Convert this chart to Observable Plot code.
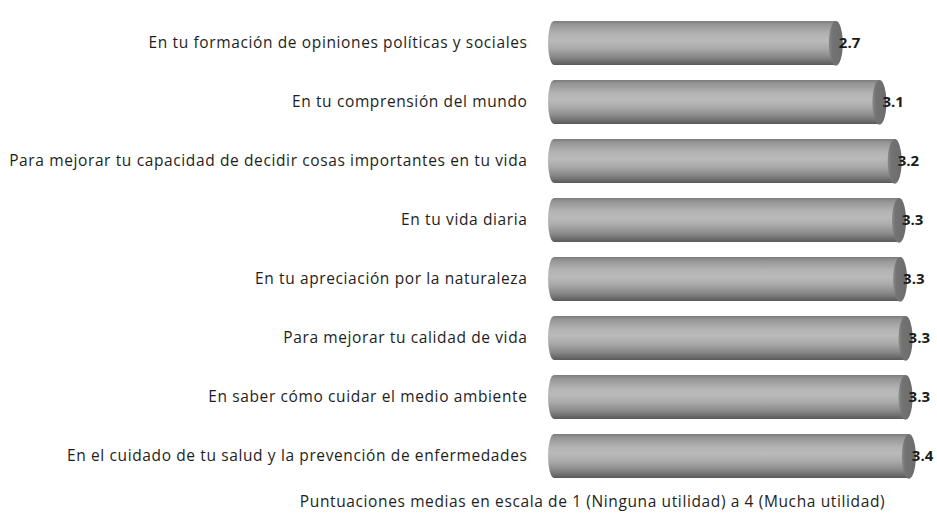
<!DOCTYPE html>
<html>
<head>
<meta charset="utf-8">
<script src="https://cdn.jsdelivr.net/npm/d3@7"></script>
<script src="https://cdn.jsdelivr.net/npm/@observablehq/plot@0.6"></script>
<style>
  html, body { margin: 0; padding: 0; background: #fff; }
</style>
</head>
<body>
<div id="chart"></div>
<script>
const categories = [
  "En tu formación de opiniones políticas y sociales",
  "En tu comprensión del mundo",
  "Para mejorar tu capacidad de decidir cosas importantes en tu vida",
  "En tu vida diaria",
  "En tu apreciación por la naturaleza",
  "Para mejorar tu calidad de vida",
  "En saber cómo cuidar el medio ambiente",
  "En el cuidado de tu salud y la prevención de enfermedades"
];
const values = [2.70, 3.10, 3.24, 3.28, 3.29, 3.34, 3.34, 3.37];
const valueLabels = ["2.7", "3.1", "3.2", "3.3", "3.3", "3.3", "3.3", "3.4"];
const axisTitle = "Puntuaciones medias en escala de 1 (Ninguna utilidad) a 4 (Mucha utilidad)";

const data = categories.map((c, i) => ({category: c, value: values[i], label: valueLabels[i]}));

const capRx = 7, capRy = 22.3;
const ellipseSymbol = {
  draw(ctx) {
    const k = 0.5522847498;
    const a = capRx, b = capRy;
    ctx.moveTo(a, 0);
    ctx.bezierCurveTo(a, k * b, k * a, b, 0, b);
    ctx.bezierCurveTo(-k * a, b, -a, k * b, -a, 0);
    ctx.bezierCurveTo(-a, -k * b, -k * a, -b, 0, -b);
    ctx.bezierCurveTo(k * a, -b, a, -k * b, a, 0);
    ctx.closePath();
  }
};

const chart = Plot.plot({
  width: 937,
  height: 523,
  marginLeft: 548,
  marginRight: 7.5,
  marginTop: 3,
  marginBottom: 27.5,
  style: {fontFamily: "'Open Sans', sans-serif", background: "#fff"},
  x: {domain: [0, 3.5], axis: null},
  y: {domain: categories, padding: 0.25, label: null},
  marks: [
    Plot.axisY({tickSize: 0, tickPadding: 21, fontSize: 15.5, label: null, color: "#1e1e1e"}),
    Plot.barX(data, {x1: 0, x2: "value", y: "category", fill: "url(#cyl)", rx: 6, ry: 22}),
    Plot.dot(data, {x: "value", y: "category", dx: -capRx, symbol: ellipseSymbol, r: 10, fill: "url(#cap)", stroke: "none"}),
    Plot.text(data, {x: "value", y: "category", text: "label", dx: -4, textAnchor: "start", fontWeight: "bold", fontSize: 15, fill: "#1a1a1a"}),
    Plot.text([axisTitle], {text: d => d, frameAnchor: "bottom-left", textAnchor: "middle", dx: 44, dy: 11, fontSize: 15.5, fill: "#1e1e1e"})
  ]
});

const svg = d3.select(chart);
svg.selectAll("text")
  .filter(function () { return !valueLabels.includes(this.textContent); })
  .style("letter-spacing", "0.62px");

const defs = svg.insert("defs", ":first-child");
const g1 = defs.append("linearGradient").attr("id", "cyl").attr("x1", 0).attr("y1", 0).attr("x2", 0).attr("y2", 1);
[[0, "#7c7c7c"], [0.08, "#959595"], [0.3, "#b3b3b3"], [0.45, "#bababa"], [0.62, "#aaaaaa"], [0.82, "#888888"], [1, "#5a5a5a"]]
  .forEach(([o, c]) => g1.append("stop").attr("offset", o).attr("stop-color", c));
const g2 = defs.append("linearGradient").attr("id", "cap").attr("x1", 0).attr("y1", 0).attr("x2", 1).attr("y2", 0);
[[0, "#8a8a8a"], [0.25, "#737373"], [1, "#6c6c6c"]]
  .forEach(([o, c]) => g2.append("stop").attr("offset", o).attr("stop-color", c));

document.getElementById("chart").appendChild(chart);
</script>
</body>
</html>
